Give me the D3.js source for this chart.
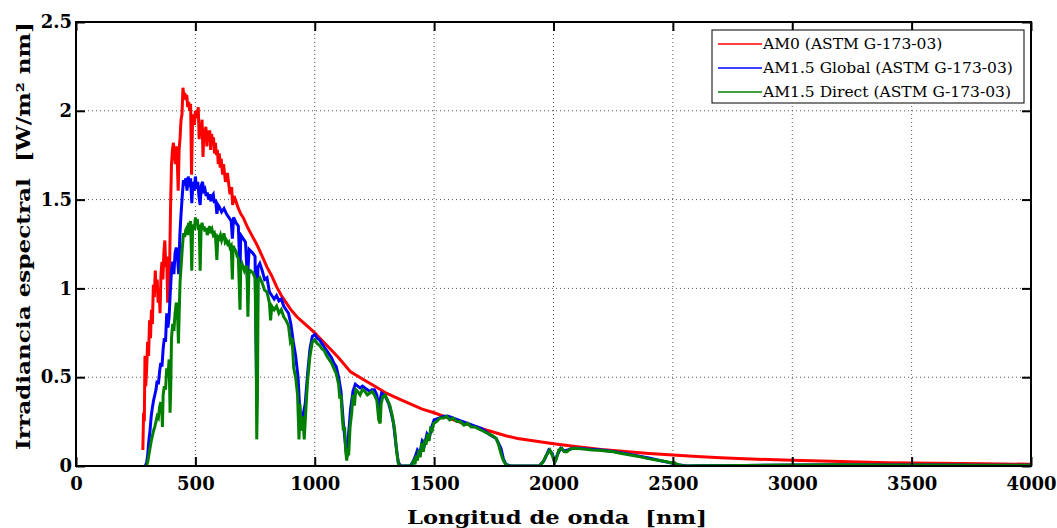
<!DOCTYPE html>
<html lang="es">
<head>
<meta charset="utf-8">
<title>Irradiancia espectral</title>
<script src="https://cdn.jsdelivr.net/npm/d3@7"></script>
<style>
  body { margin: 0; background: #fff; }
  svg { display: block; }
  .tick text { font-family: "DejaVu Serif", serif; font-weight: bold; font-size: 18px; fill: #000; }
  .title { white-space: pre; }
</style>
</head>
<body>
<script>
// spectra: [longitud de onda (nm), irradiancia (W/m2 nm)]
var am0 = [[280,0.09],[283,0.30],[286,0.25],[289,0.62],[292,0.45],[296,0.55],[300,0.70],[304,0.62],[308,0.82],[312,0.72],[316,0.88],[320,0.80],[324,1.02],[328,0.95],[332,1.10],[336,0.98],[340,1.05],[344,0.92],[348,1.00],[352,0.86],[356,1.08],[360,1.15],[364,1.05],[368,1.20],[372,1.27],[376,1.12],[380,1.18],[384,0.92],[388,1.05],[392,1.12],[396,1.45],[400,1.70],[404,1.78],[408,1.82],[412,1.75],[416,1.70],[420,1.80],[424,1.72],[428,1.55],[432,1.78],[436,1.85],[440,1.95],[444,1.98],[448,2.13],[452,2.08],[456,2.10],[460,2.06],[464,2.09],[468,2.02],[472,2.05],[476,2.00],[480,2.04],[484,1.64],[488,1.95],[492,1.98],[496,1.92],[500,2.00],[504,1.96],[508,1.98],[512,2.02],[516,1.84],[520,1.92],[524,1.88],[528,1.95],[532,1.74],[536,1.90],[540,1.86],[544,1.91],[548,1.80],[552,1.89],[556,1.84],[560,1.89],[564,1.78],[568,1.87],[572,1.82],[576,1.85],[580,1.76],[584,1.82],[588,1.75],[592,1.78],[596,1.70],[600,1.76],[604,1.68],[608,1.73],[614,1.64],[618,1.70],[626,1.60],[634,1.65],[645,1.53],[652,1.57],[656,1.47],[662,1.52],[670,1.49],[680,1.45],[690,1.42],[700,1.40],[720,1.34],[740,1.29],[760,1.24],[780,1.18],[800,1.12],[820,1.07],[840,1.01],[860,0.96],[880,0.92],[900,0.88],[925,0.84],[950,0.81],[975,0.78],[1000,0.75],[1050,0.68],[1100,0.61],[1150,0.53],[1200,0.49],[1250,0.45],[1300,0.41],[1350,0.38],[1400,0.35],[1450,0.32],[1500,0.30],[1550,0.275],[1600,0.25],[1650,0.23],[1700,0.21],[1750,0.19],[1800,0.17],[1850,0.155],[1900,0.145],[1950,0.135],[2000,0.125],[2100,0.108],[2200,0.093],[2300,0.081],[2400,0.071],[2500,0.062],[2600,0.054],[2700,0.047],[2800,0.041],[2900,0.036],[3000,0.032],[3200,0.025],[3400,0.019],[3600,0.015],[3800,0.012],[4000,0.010]];

var am15g = [[290,0],[296,0.02],[300,0.06],[305,0.14],[310,0.20],[315,0.28],[320,0.33],[325,0.37],[330,0.40],[335,0.43],[340,0.48],[345,0.46],[350,0.53],[355,0.58],[360,0.56],[365,0.66],[370,0.72],[375,0.70],[380,0.86],[385,0.78],[390,0.84],[395,0.98],[400,1.10],[405,1.15],[410,1.08],[415,1.20],[420,1.23],[425,1.18],[430,1.08],[435,1.30],[440,1.42],[445,1.52],[450,1.61],[455,1.58],[460,1.62],[465,1.55],[470,1.63],[475,1.57],[480,1.62],[485,1.48],[490,1.60],[495,1.55],[500,1.63],[505,1.56],[510,1.60],[515,1.52],[520,1.47],[525,1.58],[530,1.60],[535,1.55],[540,1.56],[545,1.52],[550,1.54],[555,1.50],[560,1.53],[565,1.49],[570,1.52],[575,1.53],[580,1.48],[585,1.50],[590,1.42],[595,1.47],[600,1.46],[610,1.43],[620,1.45],[630,1.42],[640,1.40],[650,1.38],[655,1.28],[660,1.40],[670,1.37],[680,1.35],[687,1.10],[690,1.30],[700,1.28],[710,1.26],[718,1.05],[725,1.22],[740,1.20],[750,1.18],[757,0.35],[762,1.12],[770,1.14],[780,1.10],[790,1.05],[800,1.06],[810,0.98],[820,0.96],[830,0.94],[840,0.96],[850,0.93],[860,0.94],[870,0.90],[880,0.88],[890,0.86],[900,0.80],[910,0.70],[920,0.62],[930,0.50],[940,0.25],[950,0.28],[960,0.35],[970,0.52],[980,0.66],[990,0.73],[1000,0.74],[1010,0.72],[1020,0.71],[1030,0.69],[1040,0.67],[1050,0.65],[1060,0.63],[1070,0.61],[1080,0.58],[1090,0.56],[1100,0.50],[1110,0.42],[1120,0.24],[1130,0.10],[1135,0.05],[1140,0.15],[1150,0.32],[1160,0.42],[1170,0.46],[1180,0.45],[1190,0.44],[1200,0.45],[1210,0.44],[1220,0.43],[1230,0.42],[1240,0.43],[1250,0.43],[1260,0.40],[1270,0.30],[1275,0.38],[1280,0.41],[1290,0.40],[1300,0.38],[1310,0.35],[1320,0.30],[1330,0.24],[1340,0.12],[1350,0.02],[1360,0],[1400,0],[1410,0.02],[1420,0.05],[1430,0.09],[1440,0.07],[1450,0.14],[1460,0.12],[1470,0.18],[1480,0.16],[1490,0.22],[1500,0.26],[1520,0.27],[1540,0.28],[1560,0.28],[1580,0.27],[1600,0.26],[1620,0.25],[1640,0.24],[1660,0.23],[1680,0.22],[1700,0.21],[1720,0.19],[1740,0.17],[1760,0.155],[1780,0.10],[1790,0.04],[1800,0.01],[1820,0],[1940,0],[1960,0.03],[1980,0.09],[1995,0.07],[2005,0.02],[2015,0.06],[2030,0.10],[2045,0.085],[2060,0.09],[2080,0.10],[2100,0.10],[2150,0.095],[2200,0.09],[2250,0.082],[2300,0.07],[2350,0.058],[2400,0.045],[2450,0.03],[2500,0.015],[2530,0.005],[2560,0],[2600,0.001],[2800,0.003],[3000,0.005],[3200,0.007],[3400,0.006],[3600,0.005],[3800,0.004],[4000,0.004]];

var am15d = [[295,0],[300,0.02],[305,0.06],[310,0.10],[315,0.14],[320,0.17],[325,0.20],[330,0.22],[335,0.25],[340,0.28],[345,0.27],[350,0.33],[355,0.36],[360,0.30],[362,0.22],[365,0.40],[370,0.45],[375,0.43],[380,0.55],[385,0.50],[390,0.60],[394,0.30],[397,0.45],[400,0.72],[405,0.80],[410,0.76],[415,0.86],[420,0.92],[425,0.88],[429,0.69],[432,0.85],[436,1.04],[440,1.12],[445,1.22],[450,1.31],[455,1.29],[460,1.33],[464,1.34],[468,1.30],[472,1.37],[476,1.32],[480,1.38],[485,1.10],[488,1.32],[492,1.36],[496,1.33],[500,1.40],[504,1.36],[508,1.39],[512,1.33],[516,1.36],[520,1.10],[524,1.34],[528,1.37],[532,1.33],[536,1.35],[540,1.32],[545,1.34],[550,1.30],[555,1.33],[560,1.35],[565,1.31],[570,1.33],[575,1.30],[580,1.31],[585,1.28],[590,1.16],[594,1.29],[600,1.28],[605,1.30],[610,1.27],[615,1.29],[620,1.31],[625,1.26],[630,1.27],[635,1.25],[640,1.26],[645,1.23],[650,1.24],[655,1.05],[658,1.24],[665,1.22],[670,1.21],[675,1.18],[680,1.17],[687,0.88],[690,1.12],[695,1.14],[700,1.12],[705,1.10],[710,1.12],[716,1.12],[720,0.84],[724,1.08],[730,1.10],[740,1.09],[750,1.06],[755,0.60],[757,0.15],[760,0.40],[763,1.05],[770,1.06],[780,1.03],[790,0.99],[800,0.98],[810,0.92],[815,0.82],[820,0.90],[830,0.88],[840,0.90],[850,0.86],[860,0.88],[870,0.84],[880,0.82],[890,0.79],[898,0.70],[905,0.72],[912,0.55],[920,0.50],[928,0.40],[934,0.15],[938,0.35],[944,0.20],[950,0.28],[956,0.15],[962,0.30],[970,0.48],[980,0.62],[990,0.70],[1000,0.71],[1010,0.69],[1020,0.68],[1030,0.66],[1040,0.65],[1050,0.62],[1060,0.60],[1070,0.58],[1080,0.55],[1090,0.52],[1100,0.46],[1105,0.38],[1110,0.40],[1115,0.28],[1120,0.20],[1125,0.22],[1130,0.08],[1134,0.03],[1138,0.10],[1142,0.06],[1148,0.22],[1155,0.30],[1160,0.40],[1166,0.34],[1172,0.43],[1180,0.42],[1190,0.40],[1200,0.43],[1210,0.42],[1220,0.40],[1230,0.41],[1240,0.42],[1250,0.40],[1260,0.37],[1268,0.26],[1274,0.24],[1278,0.35],[1285,0.39],[1295,0.40],[1305,0.37],[1315,0.34],[1325,0.28],[1335,0.20],[1344,0.07],[1352,0],[1405,0],[1410,0.02],[1415,0.03],[1420,0.01],[1425,0.06],[1430,0.03],[1436,0.09],[1442,0.05],[1448,0.13],[1455,0.08],[1460,0.15],[1466,0.12],[1472,0.18],[1478,0.14],[1485,0.21],[1492,0.20],[1498,0.24],[1510,0.25],[1525,0.27],[1540,0.27],[1553,0.28],[1565,0.26],[1580,0.27],[1595,0.25],[1610,0.25],[1625,0.23],[1640,0.24],[1655,0.22],[1670,0.22],[1685,0.21],[1700,0.20],[1715,0.19],[1730,0.18],[1745,0.17],[1760,0.155],[1770,0.12],[1780,0.07],[1790,0.03],[1800,0.01],[1815,0],[1940,0],[1955,0.02],[1970,0.06],[1985,0.09],[1995,0.06],[2005,0.02],[2012,0.04],[2022,0.09],[2035,0.10],[2045,0.08],[2056,0.08],[2070,0.095],[2085,0.10],[2100,0.098],[2130,0.095],[2160,0.09],[2190,0.088],[2220,0.085],[2252,0.08],[2280,0.072],[2310,0.065],[2340,0.058],[2370,0.05],[2392,0.043],[2420,0.036],[2450,0.03],[2475,0.024],[2490,0.018],[2505,0.02],[2520,0.008],[2535,0.003],[2560,0],[2600,0.001],[2800,0.003],[3000,0.005],[3200,0.007],[3400,0.006],[3600,0.005],[3800,0.004],[4000,0.004]];

var xTicks = [0, 500, 1000, 1500, 2000, 2500, 3000, 3500, 4000];
var yTicks = [0, 0.5, 1, 1.5, 2, 2.5];
var seriesNames = ["AM0 (ASTM G-173-03)", "AM1.5 Global (ASTM G-173-03)", "AM1.5 Direct (ASTM G-173-03)"];
var seriesColors = ["#ff0000", "#0000ff", "#008000"];

var w = 1057, h = 528;
var margin = {top: 22, right: 26, bottom: 62, left: 76};
var iw = w - margin.left - margin.right;
var ih = h - margin.top - margin.bottom;

var svg = d3.select("body").append("svg").attr("width", w).attr("height", h);
var g = svg.append("g").attr("transform", "translate(" + margin.left + "," + margin.top + ")");

var x = d3.scaleLinear().domain([0, 4000]).range([0, iw]);
var y = d3.scaleLinear().domain([0, 2.5]).range([ih, 0]);

// dotted grid
g.selectAll("line.gx").data(xTicks.slice(1, -1)).enter().append("line")
  .attr("x1", function(d) { return x(d); }).attr("x2", function(d) { return x(d); })
  .attr("y1", 0).attr("y2", ih)
  .attr("stroke", "#555").attr("stroke-width", 1).attr("stroke-dasharray", "1,3");
g.selectAll("line.gy").data(yTicks.slice(1, -1)).enter().append("line")
  .attr("y1", function(d) { return y(d); }).attr("y2", function(d) { return y(d); })
  .attr("x1", 0).attr("x2", iw)
  .attr("stroke", "#555").attr("stroke-width", 1).attr("stroke-dasharray", "1,3");

// spectra
var line = d3.line().x(function(d) { return x(d[0]); }).y(function(d) { return y(d[1]); });
svg.append("clipPath").attr("id", "plot").append("rect").attr("width", iw).attr("height", ih);
[am0, am15g, am15d].forEach(function(s, i) {
  g.append("path").datum(s)
    .attr("d", line)
    .attr("fill", "none")
    .attr("stroke", seriesColors[i])
    .attr("stroke-width", 3)
    .attr("clip-path", "url(#plot)");
});

// axes, ticks pointing inward
var fmt = function(d) { return String(d); };
var xAxis = g.append("g").attr("transform", "translate(0," + ih + ")")
  .call(d3.axisBottom(x).tickValues(xTicks).tickFormat(fmt).tickSizeInner(-9).tickSizeOuter(0).tickPadding(11));
var xTop = g.append("g")
  .call(d3.axisTop(x).tickValues(xTicks).tickSizeInner(-9).tickSizeOuter(0).tickFormat(""));
var yAxis = g.append("g")
  .call(d3.axisLeft(y).tickValues(yTicks).tickFormat(fmt).tickSizeInner(-9).tickSizeOuter(0).tickPadding(4));
var yRight = g.append("g").attr("transform", "translate(" + iw + ",0)")
  .call(d3.axisRight(y).tickValues(yTicks).tickSizeInner(-9).tickSizeOuter(0).tickFormat(""));
[xAxis, xTop, yAxis, yRight].forEach(function(a) {
  a.select(".domain").remove();
  a.selectAll(".tick line").attr("stroke", "#000").attr("stroke-width", 2);
});

// frame
g.append("rect").attr("width", iw).attr("height", ih)
  .attr("fill", "none").attr("stroke", "#000").attr("stroke-width", 2);

// axis titles
svg.append("text").attr("class", "title")
  .attr("x", 557).attr("y", 524)
  .attr("text-anchor", "middle")
  .attr("font-family", "DejaVu Serif, serif").attr("font-weight", "bold").attr("font-size", "19px")
  .attr("textLength", 300).attr("lengthAdjust", "spacingAndGlyphs")
  .text("Longitud de onda  [nm]");
svg.append("text").attr("class", "title")
  .attr("transform", "translate(30,236) rotate(-90)")
  .attr("text-anchor", "middle")
  .attr("font-family", "DejaVu Serif, serif").attr("font-weight", "bold").attr("font-size", "19px")
  .attr("textLength", 428).attr("lengthAdjust", "spacingAndGlyphs")
  .text("Irradiancia espectral  [W/m² nm]");

// legend
var leg = svg.append("g").attr("transform", "translate(712,30)");
leg.append("rect").attr("width", 312).attr("height", 73)
  .attr("fill", "#fff").attr("stroke", "#000").attr("stroke-width", 1);
var items = leg.selectAll("g.item").data(seriesNames).enter().append("g")
  .attr("transform", function(d, i) { return "translate(0," + (14 + i * 24) + ")"; });
items.append("line").attr("x1", 6).attr("x2", 50).attr("y1", 0).attr("y2", 0)
  .attr("stroke", function(d, i) { return seriesColors[i]; }).attr("stroke-width", 1.5);
items.append("text").attr("x", 51).attr("y", 0).attr("dy", "0.35em")
  .attr("font-family", "DejaVu Serif, serif").attr("font-size", "15.5px")
  .text(function(d) { return d; });
</script>
</body>
</html>
